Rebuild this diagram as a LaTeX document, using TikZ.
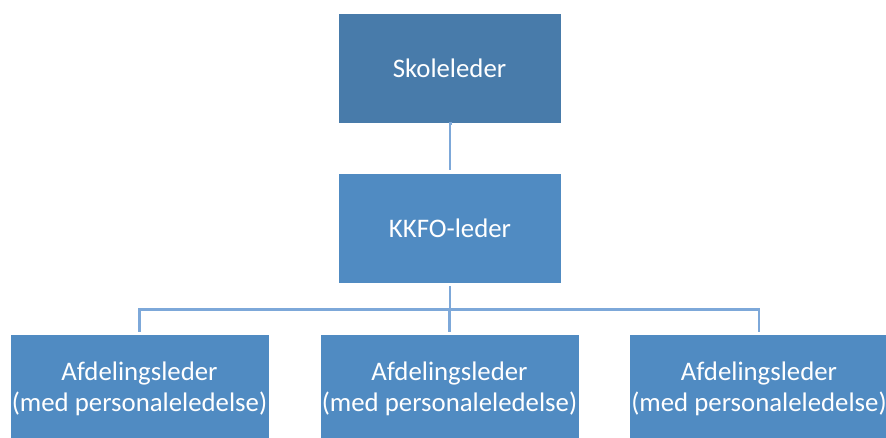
\documentclass[tikz,border=0pt]{standalone}
\usepackage{fontspec}
\setmainfont{Carlito}
\definecolor{topfill}{HTML}{487BAA}
\definecolor{boxfill}{HTML}{508BC2}
\definecolor{linecol}{HTML}{7DA8D9}
\tikzset{
  orgbox/.style={draw=white, line width=0.8pt, fill=#1, text=white, minimum height=110pt,
    inner sep=0pt, align=center, font=\fontsize{26.8}{31}\selectfont},
  conn/.style={draw=linecol, line width=2.2pt}
}
\begin{document}
\begin{tikzpicture}[x=1pt,y=1pt]
\useasboundingbox[fill=white] (0,0) rectangle (886,-437);
\node[orgbox=topfill, minimum width=223pt] (top) at (449.5,-68) {Skoleleder};
\node[orgbox=boxfill, minimum width=223pt] (kkfo) at (450,-228) {KKFO-leder};
\node[orgbox=boxfill, minimum width=259pt] (a1) at (139.5,-389) {Afdelingsleder\\(med personaleledelse)};
\node[orgbox=boxfill, minimum width=259pt] (a2) at (449.5,-389) {Afdelingsleder\\(med personaleledelse)};
\node[orgbox=boxfill, minimum width=259pt] (a3) at (759,-389) {Afdelingsleder\\(med personaleledelse)};
\coordinate (bus) at (450,-309.5);
\draw[conn, shorten <=2.5pt, shorten >=2.5pt] (top.south) -- (top.south -| kkfo.north) -- (kkfo.north);
\draw[conn, shorten <=3pt] (kkfo.south) -- (kkfo.south |- bus);
\draw[conn, shorten >=2pt] (kkfo.south |- bus) -| (a1.north);
\draw[conn, shorten >=2pt] (kkfo.south |- bus) -| (a2.north);
\draw[conn, shorten >=2pt] (kkfo.south |- bus) -| (a3.north);
\end{tikzpicture}
\end{document}
